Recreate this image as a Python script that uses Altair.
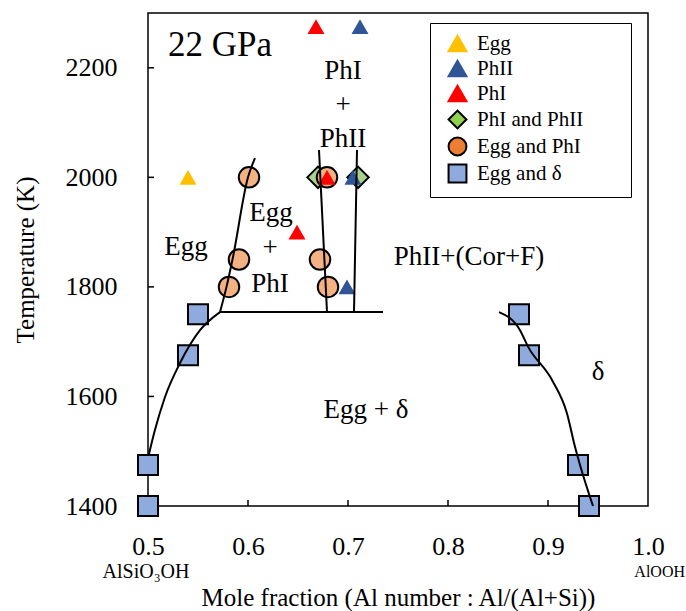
import altair as alt
import pandas as pd

# ---------------- data ----------------
# experimental runs (x = Al number, t = temperature K)
egg_x = [0.540]
egg_t = [2000]
phii_x = [0.712, 0.705, 0.699]
phii_t = [2275, 2000, 1800]
phi_x = [0.668, 0.649, 0.679]
phi_t = [2275, 1900, 2000]
phi_phii_x = [0.670, 0.710]
phi_phii_t = [2000, 2000]
egg_phi_x = [0.601, 0.591, 0.581, 0.672, 0.680, 0.679]
egg_phi_t = [2000, 1850, 1800, 1850, 1800, 2000]
egg_delta_x = [0.550, 0.540, 0.500, 0.500, 0.871, 0.881, 0.930, 0.941]
egg_delta_t = [1750, 1675, 1475, 1400, 1750, 1675, 1475, 1400]

# phase boundaries
bound_a_x = [0.501, 0.507, 0.517, 0.532, 0.552, 0.572]
bound_a_t = [1495, 1539, 1599, 1661, 1721, 1754]
bound_b_x = [0.572, 0.5785, 0.5845, 0.600, 0.607]
bound_b_t = [1754, 1800, 1850, 2000, 2035]
bound_c_x = [0.572, 0.735]
bound_c_t = [1754, 1754]
bound_d_x = [0.671, 0.679]
bound_d_t = [2050, 1754]
bound_e_x = [0.706, 0.709]
bound_e_t = [1754, 2050]
bound_f_x = [0.851, 0.872, 0.880, 0.904, 0.919, 0.927, 0.932, 0.945]
bound_f_t = [1754, 1721, 1691, 1630, 1569, 1508, 1475, 1400]

# field labels
label_text = ["22 GPa", "PhI", "+", "PhII", "Egg", "Egg", "+", "PhI",
              "PhII+(Cor+F)", "Egg + δ", "δ"]
label_x = [0.572, 0.695, 0.695, 0.695, 0.538, 0.623, 0.622, 0.622,
           0.821, 0.718, 0.950]
label_t = [2241, 2194, 2132, 2070, 1873, 1935, 1871, 1805,
           1854, 1575, 1645]

x_ticks = [0.5, 0.6, 0.7, 0.8, 0.9, 1.0]
y_ticks = [1400, 1600, 1800, 2000, 2200]
end_labels = ["AlSiO₃OH", "AlOOH"]
end_x = [0.498, 1.037]

legend_types = ["Egg", "PhII", "PhI", "PhI and PhII", "Egg and PhI", "Egg and δ"]

# ---------------- styling ----------------
FONT = "Liberation Serif"
X = alt.X("x:Q", scale=alt.Scale(domain=[0.5, 1.0], nice=False, zero=False),
          axis=alt.Axis(values=x_ticks, format=".1f",
                        title="Mole fraction (Al number : Al/(Al+Si))",
                        labelPadding=27, titlePadding=26, labelFlush=False,
                        labelOverlap=False))
Y = alt.Y("t:Q", scale=alt.Scale(domain=[1400, 2300], nice=False, zero=False),
          axis=alt.Axis(values=y_ticks, format="d", title="Temperature (K)",
                        labelPadding=31, titlePadding=27, labelFlush=False,
                        labelOverlap=False))

# lines
segs = {"a": (bound_a_x, bound_a_t), "b": (bound_b_x, bound_b_t),
        "c": (bound_c_x, bound_c_t), "d": (bound_d_x, bound_d_t),
        "e": (bound_e_x, bound_e_t), "f": (bound_f_x, bound_f_t)}
rows = []
for k, (xs, ts) in segs.items():
    for i, (xv, tv) in enumerate(zip(xs, ts)):
        rows.append({"seg": k, "i": i, "x": xv, "t": tv})
lines_df = pd.DataFrame(rows)

lines = alt.Chart(lines_df).mark_line(
    color="black", strokeWidth=2, interpolate="monotone"
).encode(x=X, y=Y, detail="seg:N", order="i:Q")


def pts(xs, ts, shape, fill, stroke, size, sw):
    df = pd.DataFrame({"x": xs, "t": ts})
    return alt.Chart(df).mark_point(
        shape=shape, filled=True, fill=fill, stroke=stroke, strokeWidth=sw,
        size=size, opacity=1
    ).encode(x=X, y=Y)


p_diam = pts(phi_phii_x, phi_phii_t, "diamond", "#A9D18E", "black", 460, 2)
p_circ = pts(egg_phi_x, egg_phi_t, "circle", "#F4B183", "black", 420, 2)
p_sq = pts(egg_delta_x, egg_delta_t, "square", "#8FAADC", "black", 400, 2)
p_egg = pts(egg_x, egg_t, "triangle-up", "#FFC000", "#FFC000", 290, 0)
p_phii = pts(phii_x, phii_t, "triangle-up", "#2F5597", "#2F5597", 290, 0)
p_phi = pts(phi_x, phi_t, "triangle-up", "#FF0000", "#FF0000", 290, 0)

# tick marks drawn inside the frame
xt_df = pd.DataFrame({"x": x_ticks[1:-1]})
x_tick_marks = alt.Chart(xt_df).mark_rule(color="black", strokeWidth=1.5).encode(
    x=X, y=alt.value(493), y2=alt.value(487))
yt_df = pd.DataFrame({"t": y_ticks[1:]})
y_tick_marks = alt.Chart(yt_df).mark_rule(color="black", strokeWidth=1.5).encode(
    y=Y, x=alt.value(0), x2=alt.value(6))

# text labels
lab_df = pd.DataFrame({"text": label_text, "x": label_x, "t": label_t})
lab_df["size"] = [35] + [27] * (len(label_text) - 1)
labels = alt.Chart(lab_df).mark_text(
    font=FONT, baseline="middle", align="center", color="black"
).encode(x=X, y=Y, text="text:N", size=alt.Size("size:Q", scale=None))

end_df = pd.DataFrame({"text": end_labels, "x": end_x, "t": [1400, 1400]})
ends_c = alt.Chart(end_df.iloc[[0]]).mark_text(
    font=FONT, baseline="middle", align="center", color="black", dy=66
).encode(x=X, y=Y, text="text:N", size=alt.value(20))
ends_r = alt.Chart(end_df.iloc[[1]]).mark_text(
    font=FONT, baseline="middle", align="right", color="black", dy=66
).encode(x=X, y=Y, text="text:N", size=alt.value(16))

# legend carrier (points sit outside the domain and are clipped away);
# a white spacer title on the right widens the box to the reference's size
leg = alt.Legend(title="Egg", titleOrient="right", titleColor="white",
                 titleFont=FONT, titleFontSize=21, titlePadding=2,
                 orient="none", legendX=282, legendY=10,
                 padding=10, fillColor="white", strokeColor="black",
                 labelFont=FONT, labelFontSize=21, labelColor="black",
                 symbolSize=320, symbolStrokeWidth=2, rowPadding=0,
                 symbolOffset=7, labelOffset=9, symbolOpacity=1)
leg_df = pd.DataFrame({"type": legend_types, "x": [0.45] * 6, "t": [1400] * 6})
legend_layer = alt.Chart(leg_df).mark_point(
    filled=True, clip=True, size=320, strokeWidth=2, opacity=1
).encode(
    x=X, y=Y,
    shape=alt.Shape("type:N", legend=leg, scale=alt.Scale(
        domain=legend_types,
        range=["triangle-up", "triangle-up", "triangle-up", "diamond", "circle", "square"])),
    fill=alt.Fill("type:N", legend=leg, scale=alt.Scale(
        domain=legend_types,
        range=["#FFC000", "#2F5597", "#FF0000", "#92D050", "#ED7D31", "#8FAADC"])),
    stroke=alt.Stroke("type:N", legend=leg, scale=alt.Scale(
        domain=legend_types,
        range=["#FFC000", "#2F5597", "#FF0000", "black", "black", "black"])),
)

chart = alt.layer(
    legend_layer, x_tick_marks, y_tick_marks,
    p_diam, p_circ, p_sq, p_egg, p_phii, p_phi,
    lines, labels, ends_c, ends_r
).properties(
    width=500, height=493,
    autosize=alt.AutoSizeParams(type="none"),
    padding={"left": 148, "top": 13, "right": 38, "bottom": 105},
    background="white",
).configure_view(
    stroke="black", strokeWidth=1.5
).configure_axis(
    domain=False, grid=False, ticks=False, tickSize=0,
    labelFont=FONT, labelFontSize=26, labelColor="black",
    titleFont=FONT, titleFontSize=25, titleFontWeight="normal", titleColor="black",
).configure_legend(
    labelFont=FONT, labelFontSize=21, labelColor="black"
)

chart.save("out.html", embed_options={"renderer": "svg", "actions": False})
